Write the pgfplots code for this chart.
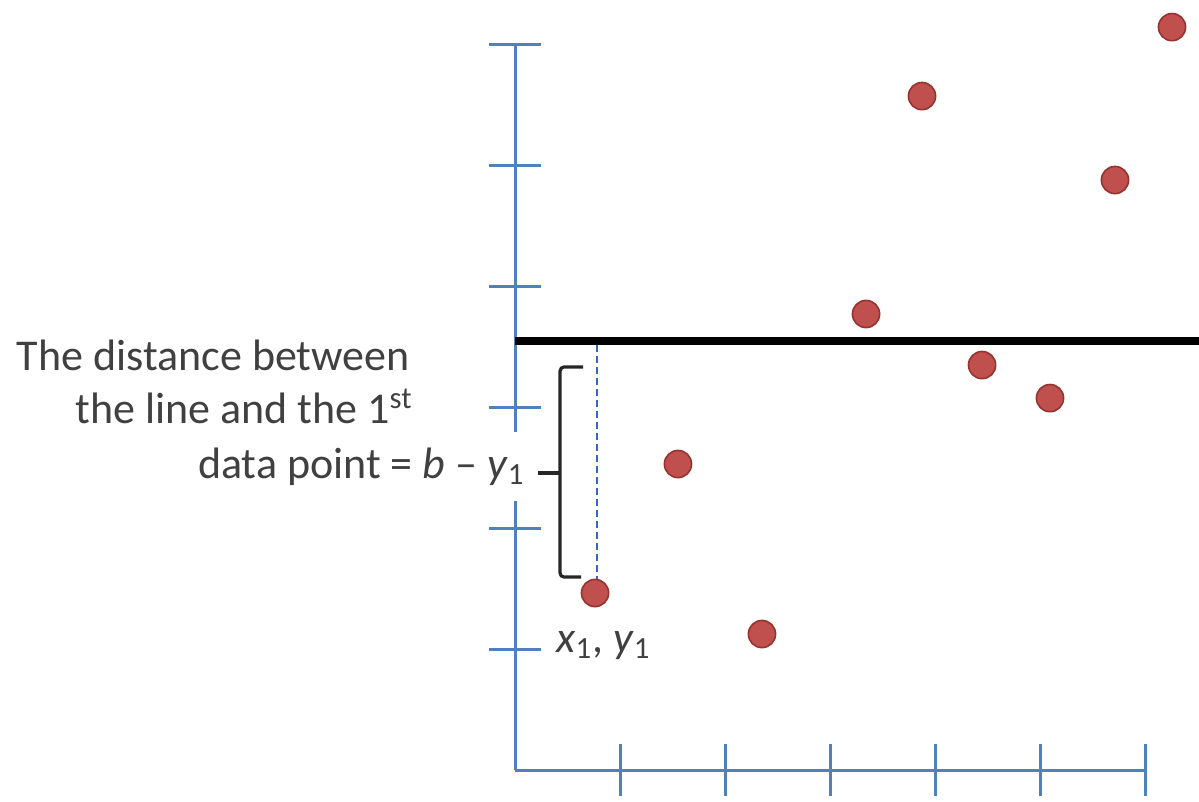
\documentclass[border=0pt]{standalone}
\usepackage{pgfplots}
\pgfplotsset{compat=1.18}
\usepackage{fontspec}
\setmainfont{Carlito}
\definecolor{axblue}{RGB}{79,129,189}
\definecolor{dashblue}{RGB}{60,100,190}
\definecolor{ptred}{RGB}{192,80,77}
\definecolor{ptedge}{RGB}{150,50,48}
\definecolor{txt}{RGB}{64,64,64}
\begin{document}
\begin{tikzpicture}
\begin{axis}[
  x=52.5pt, y=60.5pt,
  xmin=0, xmax=6, ymin=0, ymax=6,
  axis x line=bottom, axis y line=left,
  axis line style={-, draw=axblue, line width=1.5pt},
  xtick={1,...,6}, ytick={1,...,6},
  xticklabels={}, yticklabels={},
  tick align=center, major tick length=26pt,
  tick style={draw=axblue, line width=1.5pt},
  clip=false,
]
\coordinate (ll) at (axis cs:-4.905,-0.264);
\coordinate (ur) at (axis cs:6.514,6.364);
% fitted horizontal line y = b
\addplot[black, line width=4pt] coordinates {(0,3.545) (6.514,3.545)};
% residual of first point
\addplot[dashblue, line width=1.3pt, dash pattern=on 3.5pt off 2pt] coordinates {(0.78,3.51) (0.78,1.57)};
% data points
\addplot[only marks, mark=*, mark size=6.8pt, mark options={fill=ptred, draw=ptedge, line width=0.8pt}] coordinates {
  (0.762,1.463) (1.552,2.529) (2.352,1.124) (3.343,3.769) (3.876,5.570)
  (4.448,3.347) (5.095,3.074) (5.714,4.876) (6.257,6.140)
};
% bracket
\draw[line width=1.6pt, black!85, rounded corners=2pt] (axis cs:0.648,3.331) -- (axis cs:0.429,3.331) -- (axis cs:0.429,1.595) -- (axis cs:0.63,1.595);
\draw[line width=1.6pt, black!85] (axis cs:0.219,2.455) -- (axis cs:0.429,2.455);
% annotation text
\node[anchor=base east, text=txt, font=\fontsize{22}{27}\selectfont, inner sep=0pt] at (axis cs:-1.0,3.306) {The distance between};
\node[anchor=base east, text=txt, font=\fontsize{22}{27}\selectfont, inner sep=0pt] at (axis cs:-0.97,2.86) {the line and the 1\textsuperscript{st}};
\node[anchor=base east, text=txt, font=\fontsize{22}{27}\selectfont, fill=white, inner xsep=4pt, inner ysep=8pt] at (axis cs:0.171,2.413) {data point = \textit{b} – \textit{y}\textsubscript{1}};
\node[anchor=base west, text=txt, font=\fontsize{22}{27}\selectfont, inner sep=0pt] at (axis cs:0.39,0.975) {\textit{x}\textsubscript{1}, \textit{y}\textsubscript{1}};
\end{axis}
\pgfresetboundingbox
\path (ll) rectangle (ur);
\end{tikzpicture}
\end{document}
